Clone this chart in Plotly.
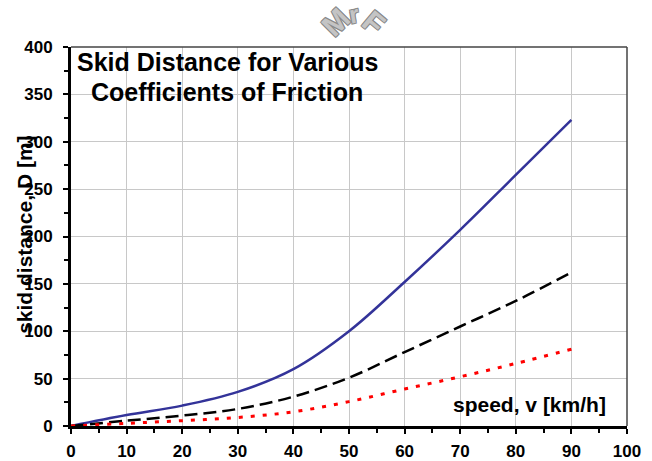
import plotly.graph_objects as go

speed = [0, 10, 20, 30, 40, 50, 60, 70, 80, 90]
d_low = [0, 11.5, 21.5, 36, 60, 100, 152, 207, 265, 323]
d_mid = [0, 5.6, 11, 18, 31, 51, 78, 105, 132, 162]
d_high = [0, 2.8, 5.6, 9, 15, 25.7, 39, 52, 66, 81]

x_ticks = list(range(0, 101, 10))
y_ticks = list(range(0, 401, 50))

FONT = "Liberation Sans, Arial, sans-serif"

fig = go.Figure()
fig.add_trace(go.Scatter(x=speed, y=d_low, mode="lines", line=dict(color="#333399", width=2.5, shape="spline"), showlegend=False))
fig.add_trace(go.Scatter(x=speed, y=d_mid, mode="lines", line=dict(color="black", width=2.5, shape="spline", dash="13px,6px"), showlegend=False))
fig.add_trace(go.Scatter(x=speed, y=d_high, mode="lines", line=dict(color="#FF0000", width=3, shape="spline", dash="4px,8px"), showlegend=False))

axis_common = dict(
    tickfont=dict(size=17, weight="bold"), showgrid=True, gridcolor="#c8c8c8", gridwidth=1,
    showline=True, linecolor="black", linewidth=3, mirror=False,
    ticks="outside", ticklen=5, tickwidth=2, tickcolor="black",
    zeroline=False, fixedrange=True, automargin=False,
)

fig.update_layout(
    width=652, height=461,
    margin=dict(l=71, r=25, t=47, b=35, autoexpand=False),
    paper_bgcolor="white", plot_bgcolor="white",
    font=dict(family=FONT, color="black"),
    xaxis=dict(range=[0, 100], tickvals=x_ticks, ticklabelstandoff=3,
               minor=dict(dtick=5, ticks="outside", ticklen=4, tickwidth=2, tickcolor="black", showgrid=False),
               **axis_common),
    yaxis=dict(range=[0, 400], tickvals=y_ticks, ticklabelstandoff=7,
               minor=dict(dtick=25, ticks="outside", ticklen=4, tickwidth=2, tickcolor="black", showgrid=False),
               **axis_common),
)

# thin top/right border
fig.add_shape(type="line", xref="paper", yref="paper", x0=0, x1=1, y0=1, y1=1, line=dict(color="#444", width=1.5))
fig.add_shape(type="line", xref="paper", yref="paper", x0=1, x1=1, y0=0, y1=1, line=dict(color="#444", width=1.5))

fig.add_annotation(xref="x", yref="y", x=28.2, y=384, text="<b>Skid Distance for Various</b>", showarrow=False,
                   font=dict(size=25, color="black"), xanchor="center", yanchor="middle")
fig.add_annotation(xref="x", yref="y", x=28.0, y=352.5, text="<b>Coefficients of Friction</b>", showarrow=False,
                   font=dict(size=25, color="black"), xanchor="center", yanchor="middle")
fig.add_annotation(xref="x", yref="y", x=82.5, y=23, text="<b>speed, v [km/h]</b>", showarrow=False,
                   font=dict(size=21, color="black"), xanchor="center", yanchor="middle")
fig.add_annotation(xref="paper", yref="paper", x=-0.083, y=0.504, text="<b>skid distance, D [m]</b>", showarrow=False,
                   textangle=-90, font=dict(size=21, color="black"), xanchor="center", yanchor="middle")

# watermark
outline = "1px 1px 0 #8a8a8a, -1px -1px 0 #8a8a8a, 1px -1px 0 #8a8a8a, -1px 1px 0 #8a8a8a"
for ch, px, py, ang, sz in [("M", 335, 22, -45, 30), ("r", 354, 14, -10, 25), ("F", 374, 22, 40, 30)]:
    fig.add_annotation(xref="paper", yref="paper", x=(px - 71) / 556, y=(426 - py) / 379, text=f"<b>{ch}</b>",
                       showarrow=False, textangle=ang,
                       font=dict(size=sz, color="#c4c4c4", shadow=outline),
                       xanchor="center", yanchor="middle")

fig.write_html("out.html")
